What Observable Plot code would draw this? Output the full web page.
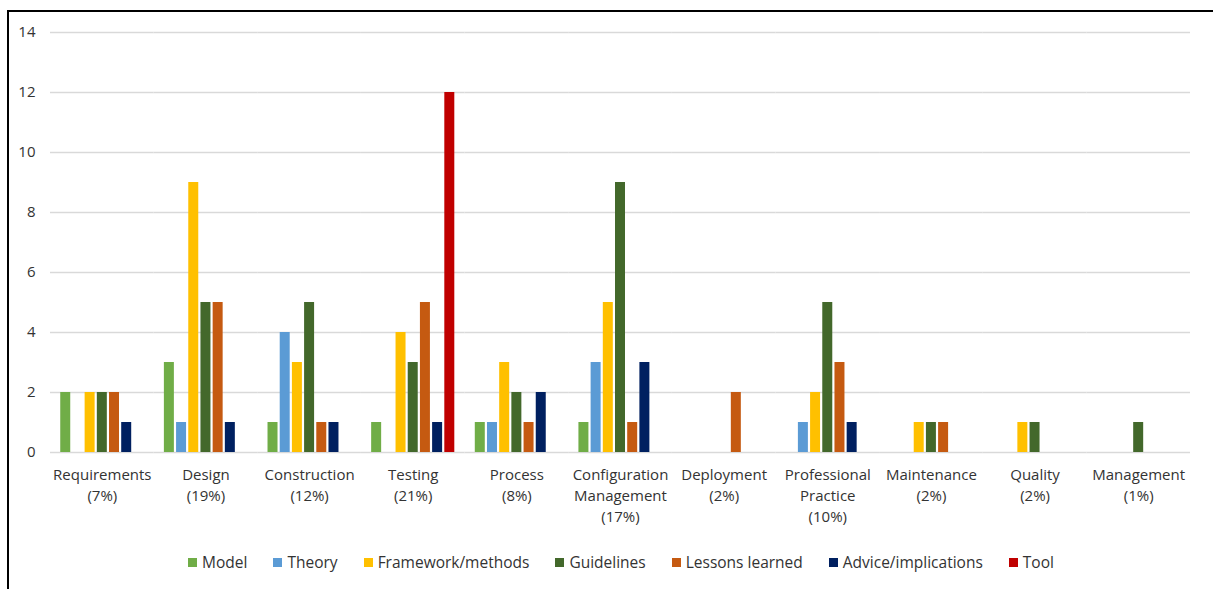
<!DOCTYPE html>
<html>
<head>
<meta charset="utf-8">
<script src="https://cdn.jsdelivr.net/npm/d3@7"></script>
<script src="https://cdn.jsdelivr.net/npm/@observablehq/plot@0.6"></script>
<style>
  html, body { margin: 0; padding: 0; background: #fff; overflow: hidden; }
  body { font-family: "Open Sans", sans-serif; color: #333; position: relative; width: 1213px; height: 589px; }
  .hline { position: absolute; left: 7px; top: 10px; width: 1206px; height: 2px; background: #000; }
  .vline { position: absolute; left: 7px; top: 10px; width: 2px; height: 579px; background: #000; }
  #legend { position: absolute; left: 0; top: 551px; width: 1213px; display: flex; justify-content: center; font-size: 15.5px; color: #333; padding-left: 29px; box-sizing: border-box; }
  .item { display: flex; align-items: center; margin: 0 13px; }
  .sw { width: 9px; height: 9px; margin-right: 5px; }
</style>
</head>
<body>
<div id="chart"></div>
<div id="legend"></div>
<div class="hline"></div>
<div class="vline"></div>
<script>
const categories = ["Requirements", "Design", "Construction", "Testing", "Process", "Configuration Management", "Deployment", "Professional Practice", "Maintenance", "Quality", "Management"];
const categoryLabels = ["Requirements\n(7%)", "Design\n(19%)", "Construction\n(12%)", "Testing\n(21%)", "Process\n(8%)", "Configuration\nManagement\n(17%)", "Deployment\n(2%)", "Professional\nPractice\n(10%)", "Maintenance\n(2%)", "Quality\n(2%)", "Management\n(1%)"];
const series = ["Model", "Theory", "Framework/methods", "Guidelines", "Lessons learned", "Advice/implications", "Tool"];
const colors = ["#70AD47", "#5B9BD5", "#FFC000", "#43682B", "#C55A11", "#002060", "#C00000"];
// values per series, in category order
const model      = [2, 3, 1, 1, 1, 1, 0, 0, 0, 0, 0];
const theory     = [0, 1, 4, 0, 1, 3, 0, 1, 0, 0, 0];
const framework  = [2, 9, 3, 4, 3, 5, 0, 2, 1, 1, 0];
const guidelines = [2, 5, 5, 3, 2, 9, 0, 5, 1, 1, 1];
const lessons    = [2, 5, 1, 5, 1, 1, 2, 3, 1, 0, 0];
const advice     = [1, 1, 1, 1, 2, 3, 0, 1, 0, 0, 0];
const tool       = [0, 0, 0, 12, 0, 0, 0, 0, 0, 0, 0];
const yTicks = [0, 2, 4, 6, 8, 10, 12, 14];

const seriesValues = [model, theory, framework, guidelines, lessons, advice, tool];
const rows = [];
series.forEach((s, i) => categories.forEach((c, j) => {
  if (seriesValues[i][j] > 0) rows.push({category: c, series: s, value: seriesValues[i][j]});
}));
const labelOf = new Map(categories.map((c, i) => [c, categoryLabels[i]]));

const chart = Plot.plot({
  width: 1213,
  height: 530,
  marginTop: 32,
  marginBottom: 78,
  marginLeft: 50,
  marginRight: 23,
  style: {fontFamily: "'Open Sans', sans-serif", fontSize: "15px", color: "#333", background: "transparent"},
  fx: {domain: categories, padding: 0, axis: null, round: false},
  x: {domain: series, paddingInner: 0.18, paddingOuter: 0.84, axis: null, round: false},
  y: {domain: [0, 14], ticks: yTicks, tickSize: 0, tickPadding: 15, label: null, grid: false},
  color: {domain: series, range: colors},
  marks: [
    Plot.ruleY(yTicks, {stroke: "#d9d9d9", strokeWidth: 1.5}),
    Plot.barY(rows, {fx: "category", x: "series", y: "value", fill: "series"}),
    Plot.text(categories, {fx: d => d, text: d => labelOf.get(d), frameAnchor: "bottom", lineAnchor: "top", dy: 13, lineHeight: 1.38, fill: "#333", fontSize: 15})
  ]
});
document.getElementById("chart").appendChild(chart);

const legend = document.getElementById("legend");
series.forEach((s, i) => {
  const item = document.createElement("div");
  item.className = "item";
  const sw = document.createElement("div");
  sw.className = "sw";
  sw.style.background = colors[i];
  const t = document.createElement("span");
  t.textContent = s;
  item.appendChild(sw);
  item.appendChild(t);
  legend.appendChild(item);
});
</script>
</body>
</html>
